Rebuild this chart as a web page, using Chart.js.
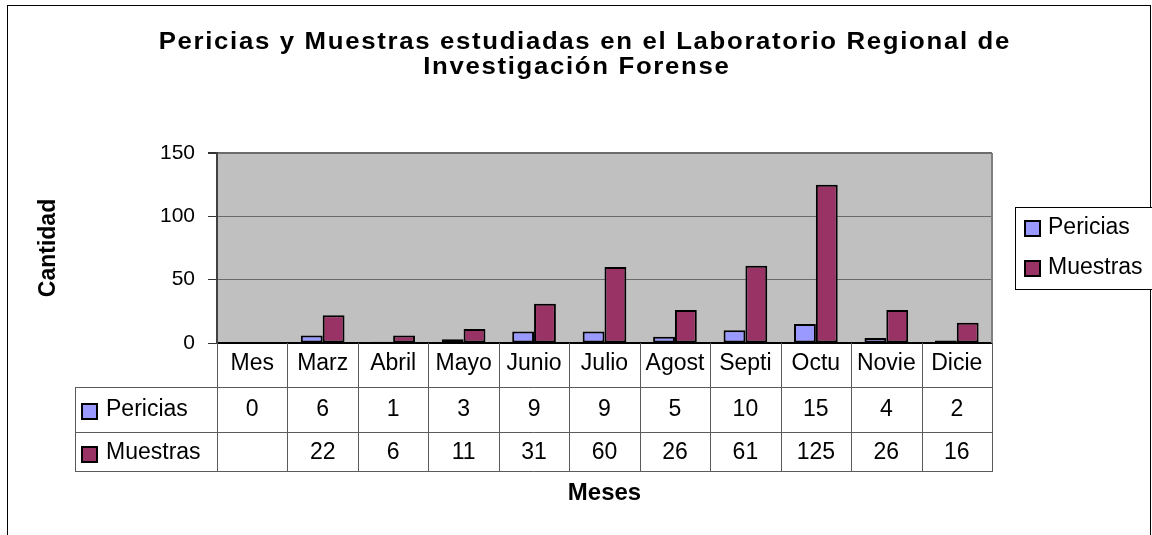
<!DOCTYPE html>
<html>
<head>
<meta charset="utf-8">
<script src="https://cdn.jsdelivr.net/npm/chart.js@4"></script>
<style>
  html, body { margin: 0; padding: 0; background: #fff; }
</style>
</head>
<body>
<canvas id="myChart" width="1152" height="535"></canvas>
<script>
var meses = ['Mes', 'Marz', 'Abril', 'Mayo', 'Junio', 'Julio', 'Agost', 'Septi', 'Octu', 'Novie', 'Dicie'];
var pericias = [0, 6, 1, 3, 9, 9, 5, 10, 15, 4, 2];
var muestras = [null, 22, 6, 11, 31, 60, 26, 61, 125, 26, 16];
var titulo = ['Pericias y Muestras estudiadas en el Laboratorio Regional de', 'Investigación Forense'];
var fuente = '"Liberation Sans", Arial, sans-serif';

function linea(ctx, x1, y1, x2, y2) {
  ctx.beginPath();
  ctx.moveTo(x1, y1);
  ctx.lineTo(x2, y2);
  ctx.stroke();
}

// fondo gris, marco, tabla de datos, leyenda y titulo al estilo Excel
var tablaExcel = {
  id: 'tablaExcel',
  beforeDraw: function (chart) {
    var ctx = chart.ctx, a = chart.chartArea;
    ctx.save();
    ctx.fillStyle = '#fff';
    ctx.fillRect(0, 0, chart.width, chart.height);
    ctx.strokeStyle = '#000';
    ctx.lineWidth = 1;
    ctx.strokeRect(7.5, 5.5, 1143, 560);
    ctx.fillStyle = '#C0C0C0';
    ctx.fillRect(a.left, a.top, a.right - a.left, a.bottom - a.top);
    ctx.restore();
  },
  afterDraw: function (chart) {
    var ctx = chart.ctx, a = chart.chartArea, xs = chart.scales.x;
    var sets = chart.data.datasets;
    var colW = xs.getPixelForValue(1) - xs.getPixelForValue(0);
    var r0 = a.bottom, r1 = r0 + 44, r2 = r0 + 89, r3 = r0 + 128;
    var izq = 75.5;
    ctx.save();

    // borde derecho del area de trazado
    ctx.strokeStyle = '#808080';
    ctx.lineWidth = 2;
    linea(ctx, a.right, a.top, a.right, a.bottom);

    // lineas de la tabla
    ctx.strokeStyle = '#5a5a5a';
    ctx.lineWidth = 1;
    [r1, r2, r3].forEach(function (y) { linea(ctx, izq, y + 0.5, a.right, y + 0.5); });
    linea(ctx, izq, r1, izq, r3 + 1);
    for (var i = 0; i <= meses.length; i++) {
      var x = Math.round(xs.getPixelForValue(0) - colW / 2 + i * colW) + 0.5;
      linea(ctx, x, r0, x, r3 + 1);
    }

    // filas de las series
    ctx.font = '23px ' + fuente;
    ctx.textBaseline = 'middle';
    var centros = [r1 + 23, r2 + 21];
    sets.forEach(function (ds, j) {
      var cy = centros[j];
      ctx.fillStyle = ds.backgroundColor;
      ctx.fillRect(82, cy - 6, 15, 15);
      ctx.strokeStyle = '#000';
      ctx.lineWidth = 2;
      ctx.strokeRect(82, cy - 6, 15, 15);
      ctx.fillStyle = '#000';
      ctx.textAlign = 'left';
      ctx.fillText(ds.label, 106, cy);
      ctx.textAlign = 'center';
      ds.data.forEach(function (v, k) {
        if (v !== null) ctx.fillText(String(v), xs.getPixelForValue(k), cy);
      });
    });

    // leyenda
    ctx.fillStyle = '#fff';
    ctx.fillRect(1015.5, 207.5, 170, 82);
    ctx.strokeStyle = '#000';
    ctx.lineWidth = 1;
    ctx.strokeRect(1015.5, 207.5, 170, 82);
    sets.forEach(function (ds, j) {
      var cy = 228 + j * 40;
      ctx.fillStyle = ds.backgroundColor;
      ctx.fillRect(1025, cy - 7, 15, 15);
      ctx.strokeStyle = '#000';
      ctx.lineWidth = 2;
      ctx.strokeRect(1025, cy - 7, 15, 15);
      ctx.fillStyle = '#000';
      ctx.textAlign = 'left';
      ctx.fillText(ds.label, 1048, cy);
    });

    // titulo, algo ensanchado como en el original
    ctx.font = 'bold 23px ' + fuente;
    ctx.letterSpacing = '1.5px';
    ctx.textAlign = 'center';
    ctx.textBaseline = 'alphabetic';
    [[titulo[0], 584, 49], [titulo[1], 576, 74]].forEach(function (t) {
      ctx.save();
      ctx.translate(t[1], 0);
      ctx.scale(1.12, 1);
      ctx.fillText(t[0], 0.75, t[2]);
      ctx.restore();
    });
    ctx.letterSpacing = '0px';
    ctx.restore();
  }
};

var config = {
  type: 'bar',
  data: {
    labels: meses,
    datasets: [{
      label: 'Pericias',
      data: pericias,
      backgroundColor: '#9999FF',
      borderColor: '#000',
      borderWidth: 2,
      borderSkipped: false,
      categoryPercentage: 0.62,
      barPercentage: 1
    }, {
      label: 'Muestras',
      data: muestras,
      backgroundColor: '#993366',
      borderColor: '#000',
      borderWidth: 2,
      borderSkipped: false,
      categoryPercentage: 0.62,
      barPercentage: 1
    }]
  },
  options: {
    responsive: false,
    animation: false,
    devicePixelRatio: 1,
    layout: { padding: { top: 153, right: 160, bottom: 0, left: 0 } },
    plugins: {
      legend: { display: false },
      title: { display: false },
      tooltip: { enabled: false }
    },
    scales: {
      x: {
        afterFit: function (s) { s.height = 192; },
        grid: { display: false, drawTicks: false },
        border: { display: true, color: '#000', width: 2 },
        ticks: {
          autoSkip: false, maxRotation: 0, minRotation: 0,
          padding: 7, color: '#000',
          font: { family: fuente, size: 23 }
        },
        title: {
          display: true, text: 'Meses', color: '#000',
          font: { family: fuente, size: 24, weight: 'bold' },
          padding: { top: 0, bottom: 27 }
        }
      },
      y: {
        min: 0, max: 150,
        afterFit: function (s) { s.width = 217; },
        grid: {
          color: '#6b6b6b',
          lineWidth: function (c) { return c.tick && c.tick.value === 150 ? 2 : 1; },
          tickLength: 9,
          tickColor: '#333'
        },
        border: { color: '#404040', width: 2 },
        ticks: {
          stepSize: 50, padding: 13, color: '#000',
          font: { family: fuente, size: 21 }
        },
        title: {
          display: true, text: 'Cantidad', color: '#000',
          font: { family: fuente, size: 23, weight: 'bold' },
          padding: { top: 35, bottom: 0 }
        }
      }
    }
  },
  plugins: [tablaExcel]
};

new Chart(document.getElementById('myChart'), config);
</script>
</body>
</html>
